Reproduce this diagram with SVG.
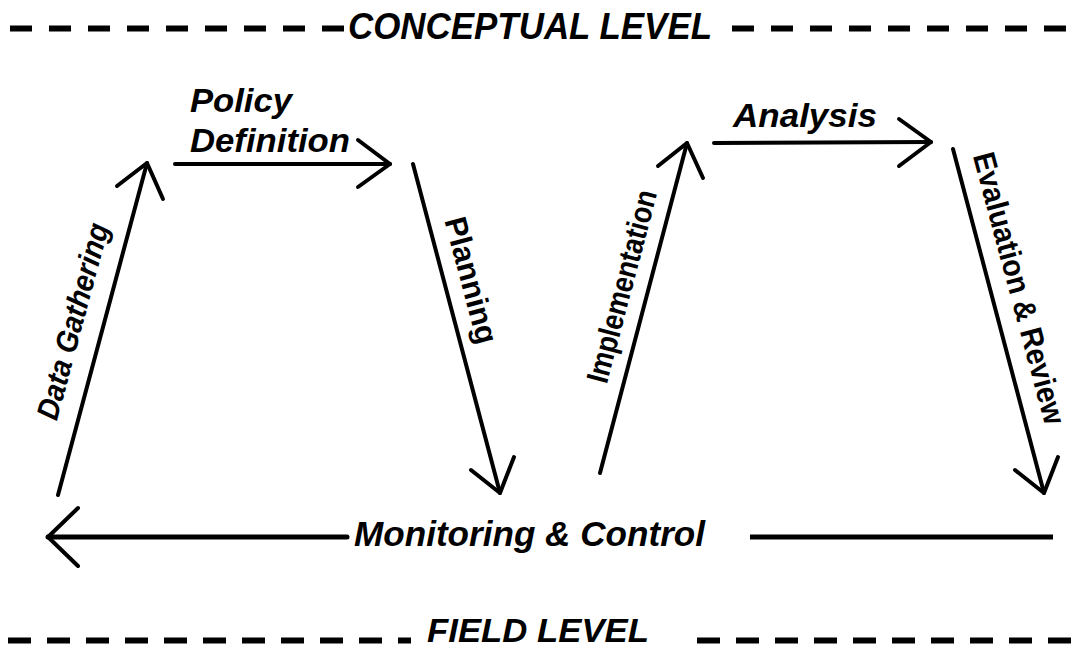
<svg xmlns="http://www.w3.org/2000/svg" width="1083" height="649" viewBox="0 0 1083 649">
<style>
  .ln{stroke:#000;stroke-width:4;fill:none;stroke-linecap:round;stroke-linejoin:round}
  .dash{stroke:#000;stroke-width:6;fill:none;stroke-dasharray:22 17}
  .lbl{font-family:"Liberation Sans",Arial,sans-serif;font-weight:bold;font-style:italic;fill:#000}
  .rot{font-family:"Liberation Sans",Arial,sans-serif;font-weight:bold;fill:#000;font-size:31px}
</style>
<rect width="1083" height="649" fill="#fff"/>
<g id="levels">
  <line class="dash" x1="10" y1="28.5" x2="344" y2="28.5"/>
  <line class="dash" x1="732" y1="28.5" x2="1083" y2="28.5"/>
  <text class="lbl" x="348" y="39" font-size="36" textLength="364" lengthAdjust="spacingAndGlyphs">CONCEPTUAL LEVEL</text>
  <line class="dash" x1="8" y1="640.5" x2="411" y2="640.5" style="stroke-dasharray:23 16"/>
  <line class="dash" x1="697" y1="640.5" x2="1083" y2="640.5" style="stroke-dasharray:23 16"/>
  <text class="lbl" x="427" y="642" font-size="34" textLength="222" lengthAdjust="spacingAndGlyphs">FIELD LEVEL</text>
</g>
<g id="connectors">
  <g id="data-gathering">
    <line class="ln" x1="58" y1="495" x2="147" y2="163"/>
    <polyline class="ln" points="117,186 147,163 163,199"/>
  </g>
  <g id="policy-definition">
    <line class="ln" x1="175" y1="164" x2="390" y2="164"/>
    <polyline class="ln" points="358,140 390,164 358,187"/>
  </g>
  <g id="planning">
    <line class="ln" x1="413" y1="164" x2="500" y2="493"/>
    <polyline class="ln" points="471,470 500,493 514,457"/>
  </g>
  <g id="implementation">
    <line class="ln" x1="600" y1="473" x2="687" y2="143"/>
    <polyline class="ln" points="658,166 687,143 703,178"/>
  </g>
  <g id="analysis">
    <line class="ln" x1="714" y1="143" x2="931" y2="142"/>
    <polyline class="ln" points="899,119 931,142 899,166"/>
  </g>
  <g id="evaluation">
    <line class="ln" x1="953" y1="149" x2="1044" y2="493"/>
    <polyline class="ln" points="1015,470 1044,493 1058,457"/>
  </g>
  <g id="monitoring">
    <line class="ln" x1="48" y1="537" x2="347" y2="537" style="stroke-width:5"/>
    <polyline class="ln" points="78,508 48,537 78,566"/>
    <line class="ln" x1="750" y1="537" x2="1053" y2="537" style="stroke-width:5;stroke-linecap:butt"/>
  </g>
</g>
<g id="labels">
  <g id="lbl-policy">
    <text class="lbl" x="190" y="112" font-size="34" textLength="102" lengthAdjust="spacingAndGlyphs">Policy</text>
    <text class="lbl" x="190" y="152" font-size="34" textLength="160" lengthAdjust="spacingAndGlyphs">Definition</text>
  </g>
  <g id="lbl-analysis"><text class="lbl" x="733" y="127" font-size="34" textLength="144" lengthAdjust="spacingAndGlyphs">Analysis</text></g>
  <g id="lbl-monitoring"><text class="lbl" x="354" y="546" font-size="35" textLength="351" lengthAdjust="spacingAndGlyphs">Monitoring &amp; Control</text></g>
  <g id="lbl-data"><text class="rot" style="font-style:italic" transform="translate(83,324) rotate(-75)" text-anchor="middle" textLength="202" lengthAdjust="spacingAndGlyphs">Data Gathering</text></g>
  <g id="lbl-planning"><text class="rot" transform="translate(461,283) rotate(75)" text-anchor="middle" textLength="130" lengthAdjust="spacingAndGlyphs">Planning</text></g>
  <g id="lbl-impl"><text class="rot" transform="translate(632,289) rotate(-75.2)" text-anchor="middle" textLength="198" lengthAdjust="spacingAndGlyphs">Implementation</text></g>
  <g id="lbl-eval"><text class="rot" transform="translate(1009,291) rotate(75)" text-anchor="middle" textLength="280" lengthAdjust="spacingAndGlyphs">Evaluation &amp; Review</text></g>
</g>
</svg>
